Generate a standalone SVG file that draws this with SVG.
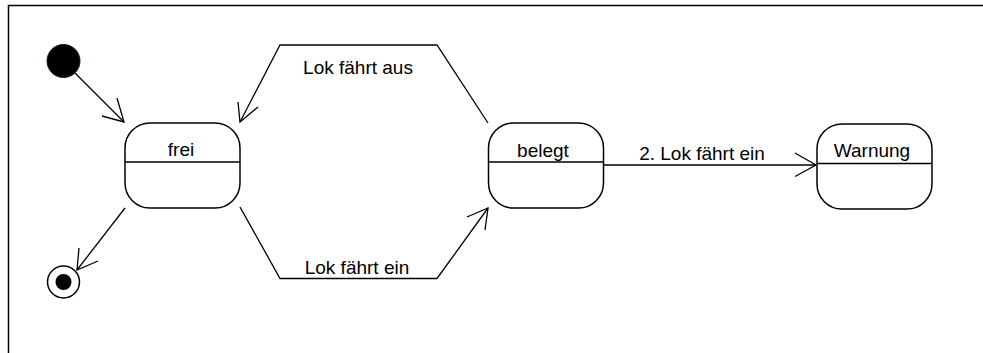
<svg xmlns="http://www.w3.org/2000/svg" width="983" height="353" viewBox="0 0 983 353">
<style>
  .frame{fill:none;stroke:#000;stroke-width:1.5}
  .state{fill:#fff;stroke:#000;stroke-width:1.5}
  .div{stroke:#000;stroke-width:1.5}
  .edge{fill:none;stroke:#000;stroke-width:1.3}
  text{font-family:"Liberation Sans",Arial,sans-serif;font-size:19px;fill:#000}
</style>
<rect width="983" height="353" fill="#fff"/>
<rect class="frame" x="8.5" y="5.5" width="1100" height="400"/>
<g id="connectors">
  <g id="e-init-frei">
    <line class="edge" x1="75" y1="73" x2="124" y2="122"/>
    <polyline class="edge" points="102,116 124,122 117,98"/>
  </g>
  <g id="e-frei-final">
    <line class="edge" x1="125" y1="208" x2="77" y2="270"/>
    <polyline class="edge" points="79,248 77,270 98,261"/>
  </g>
  <g id="e-belegt-frei">
    <polyline class="edge" points="488,123 437,45 280,45 240,122"/>
    <polyline class="edge" points="238,102 240,122 258,107"/>
    <text x="358" y="74" text-anchor="middle">Lok fährt aus</text>
  </g>
  <g id="e-frei-belegt">
    <polyline class="edge" points="240,207 280,278.5 437,278.5 488,208"/>
    <polyline class="edge" points="467,217 488,208 485,230"/>
    <text x="357" y="274" text-anchor="middle">Lok fährt ein</text>
  </g>
  <g id="e-belegt-warnung">
    <line class="edge" x1="604" y1="165" x2="816" y2="165"/>
    <polyline class="edge" points="795,153 816,165 795,176.5"/>
    <text x="702" y="160" text-anchor="middle">2. Lok fährt ein</text>
  </g>
</g>
<g id="initial">
  <circle cx="63.5" cy="61" r="16.5" fill="#000" stroke="#022" stroke-width="1"/>
</g>
<g id="final">
  <circle cx="63.5" cy="282" r="16" fill="#fff" stroke="#000" stroke-width="1.5"/>
  <circle cx="63.5" cy="282" r="8" fill="#000"/>
</g>
<g id="frei">
  <rect class="state" x="125" y="123" width="115" height="85" rx="25" ry="25"/>
  <line class="div" x1="125" y1="162" x2="240" y2="162"/>
  <text x="181" y="156" text-anchor="middle">frei</text>
</g>
<g id="belegt">
  <rect class="state" x="488.5" y="123" width="115" height="85" rx="25" ry="25"/>
  <line class="div" x1="488.5" y1="162" x2="603.5" y2="162"/>
  <text x="543" y="157" text-anchor="middle">belegt</text>
</g>
<g id="warnung">
  <rect class="state" x="817" y="124" width="115" height="85" rx="25" ry="25"/>
  <line class="div" x1="817" y1="163.5" x2="932" y2="163.5"/>
  <text x="872" y="157" text-anchor="middle">Warnung</text>
</g>
</svg>
